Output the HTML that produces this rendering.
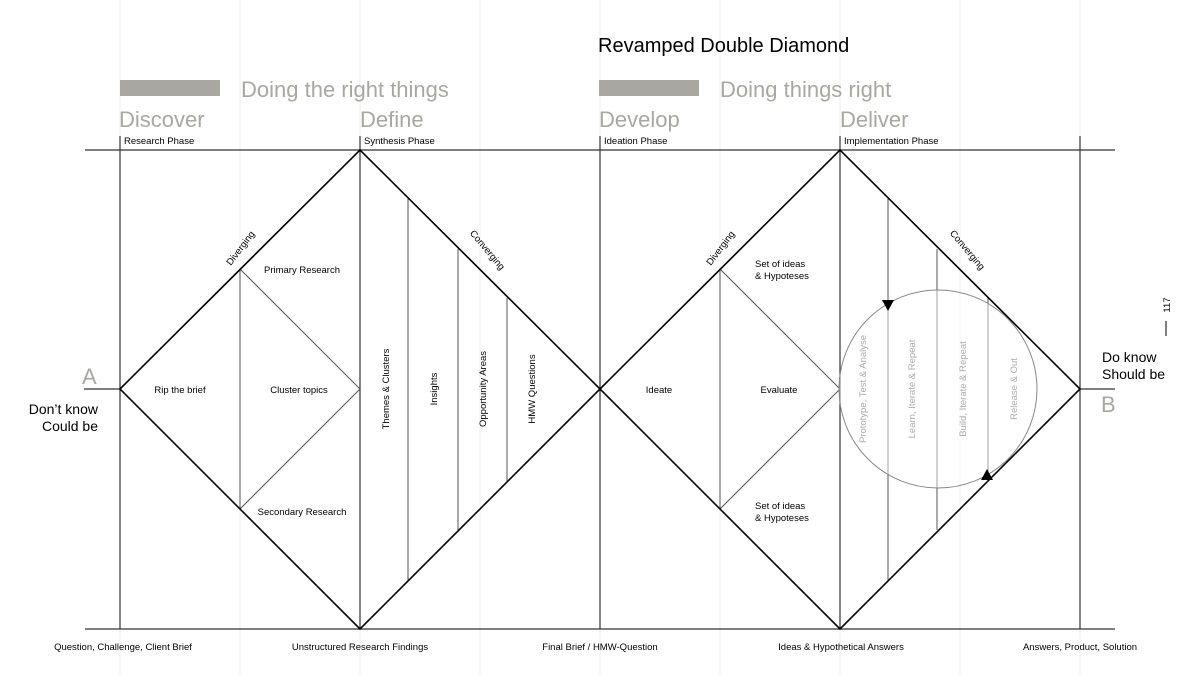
<!DOCTYPE html>
<html><head><meta charset="utf-8"><style>
html,body{margin:0;padding:0;background:#fff;}
svg{display:block;font-family:"Liberation Sans",sans-serif;}
</style></head><body>
<svg width="1200" height="675" viewBox="0 0 1200 675" xmlns="http://www.w3.org/2000/svg">
<rect width="1200" height="675" fill="#fff"/>
<!-- faint grid -->
<g stroke="#ececec" stroke-width="1">
<line x1="120" y1="0" x2="120" y2="675"/><line x1="240" y1="0" x2="240" y2="675"/>
<line x1="360" y1="0" x2="360" y2="675"/><line x1="480" y1="0" x2="480" y2="675"/>
<line x1="600" y1="0" x2="600" y2="675"/><line x1="720" y1="0" x2="720" y2="675"/>
<line x1="840" y1="0" x2="840" y2="675"/><line x1="960" y1="0" x2="960" y2="675"/>
<line x1="1080" y1="0" x2="1080" y2="675"/>
</g>
<text x="598" y="52" font-size="20" fill="#000">Revamped Double Diamond</text>
<rect x="120" y="80" width="100" height="16" fill="#a8a8a0"/>
<rect x="599" y="80" width="100" height="16" fill="#a8a8a0"/>
<g fill="#a8a8a0" font-size="22">
<text x="241" y="97">Doing the right things</text>
<text x="720" y="97">Doing things right</text>
<text x="119" y="127">Discover</text>
<text x="360" y="127">Define</text>
<text x="599" y="127">Develop</text>
<text x="840" y="127">Deliver</text>
<text x="82" y="384">A</text>
<text x="1101" y="412">B</text>
</g>
<g font-size="9.5" fill="#000">
<text x="124" y="144">Research Phase</text>
<text x="364" y="144">Synthesis Phase</text>
<text x="604" y="144">Ideation Phase</text>
<text x="844" y="144">Implementation Phase</text>
<text x="123" y="650" text-anchor="middle">Question, Challenge, Client Brief</text>
<text x="360" y="650" text-anchor="middle">Unstructured Research Findings</text>
<text x="600" y="650" text-anchor="middle">Final Brief / HMW-Question</text>
<text x="841" y="650" text-anchor="middle">Ideas &amp; Hypothetical Answers</text>
<text x="1080" y="650" text-anchor="middle">Answers, Product, Solution</text>
<text x="180" y="393" text-anchor="middle">Rip the brief</text>
<text x="299" y="393" text-anchor="middle">Cluster topics</text>
<text x="302" y="273" text-anchor="middle">Primary Research</text>
<text x="302" y="515" text-anchor="middle">Secondary Research</text>
<text x="659" y="393" text-anchor="middle">Ideate</text>
<text x="779" y="393" text-anchor="middle">Evaluate</text>
<text x="755" y="267">Set of ideas</text><text x="755" y="279">&amp; Hypoteses</text>
<text x="755" y="509">Set of ideas</text><text x="755" y="521">&amp; Hypoteses</text>
<text transform="translate(389,389) rotate(-90)" text-anchor="middle">Themes &amp; Clusters</text>
<text transform="translate(437,389) rotate(-90)" text-anchor="middle">Insights</text>
<text transform="translate(486,389) rotate(-90)" text-anchor="middle">Opportunity Areas</text>
<text transform="translate(535,389) rotate(-90)" text-anchor="middle">HMW Questions</text>
<text transform="translate(243,250) rotate(-53)" text-anchor="middle">Diverging</text>
<text transform="translate(485,252) rotate(50)" text-anchor="middle">Converging</text>
<text transform="translate(723,250) rotate(-53)" text-anchor="middle">Diverging</text>
<text transform="translate(965,252) rotate(50)" text-anchor="middle">Converging</text>
<text transform="translate(1170,305) rotate(-90)" text-anchor="middle">117</text>
</g>
<line x1="1166" y1="321" x2="1166" y2="336" stroke="#000"/>
<g font-size="14" fill="#000">
<text x="98" y="414" text-anchor="end">Don’t know</text>
<text x="98" y="431" text-anchor="end">Could be</text>
<text x="1102" y="362">Do know</text>
<text x="1102" y="379">Should be</text>
</g>
<!-- structure -->
<g stroke="#333" stroke-width="1.2" fill="none">
<line x1="85" y1="150" x2="1115" y2="150"/>
<line x1="85" y1="629" x2="1115" y2="629"/>
<line x1="120" y1="136" x2="120" y2="629"/>
<line x1="360" y1="136" x2="360" y2="629"/>
<line x1="600" y1="136" x2="600" y2="629"/>
<line x1="840" y1="136" x2="840" y2="629"/>
<line x1="1080" y1="136" x2="1080" y2="629"/>
<line x1="84" y1="389" x2="120" y2="389"/>
<line x1="1080" y1="389" x2="1115" y2="389"/>
</g>
<g stroke="#555" stroke-width="1" fill="none">
<line x1="240" y1="269" x2="240" y2="509"/>
<polyline points="240,269 360,389 240,509"/>
<line x1="408" y1="199" x2="408" y2="580"/>
<line x1="458" y1="249" x2="458" y2="530"/>
<line x1="507" y1="298" x2="507" y2="481"/>
<line x1="720" y1="269" x2="720" y2="509"/>
<polyline points="720,269 840,389 720,509"/>
<line x1="888" y1="199" x2="888" y2="580"/>
<line x1="937" y1="249" x2="937" y2="530"/>
<line x1="988" y1="298" x2="988" y2="481"/>
</g>
<g stroke="#000" stroke-width="1.6" fill="none">
<polygon points="120,389 360,150 600,389 360,629"/>
<polygon points="600,389 840,150 1080,389 840,629"/>
</g>
<circle cx="938" cy="389" r="99" fill="#fff" fill-opacity="0.45" stroke="#888" stroke-width="1"/>
<g font-size="9.5" fill="#aaa">
<text transform="translate(866,389) rotate(-90)" text-anchor="middle">Prototype, Test &amp; Analyse</text>
<text transform="translate(915,389) rotate(-90)" text-anchor="middle">Learn, Iterate &amp; Repeat</text>
<text transform="translate(966,389) rotate(-90)" text-anchor="middle">Build, Iterate &amp; Repeat</text>
<text transform="translate(1017,389) rotate(-90)" text-anchor="middle">Release &amp; Out</text>
</g>
<polygon points="882,300 894,300 888,311" fill="#000"/>
<polygon points="981,480 993,480 987,469" fill="#000"/>
</svg>
</body></html>
